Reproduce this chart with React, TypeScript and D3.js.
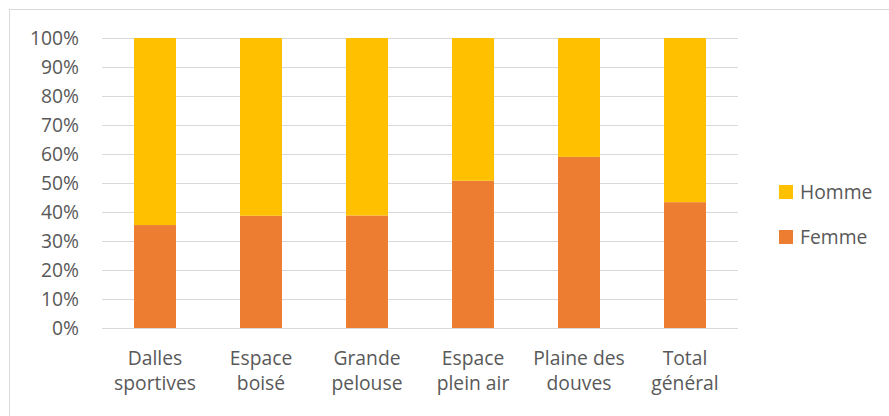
import React from 'react';
import * as d3 from 'd3';

// categories (two-line labels) and share of "Femme" per site
const categories = ['Dalles sportives', 'Espace boisé', 'Grande pelouse', 'Espace plein air', 'Plaine des douves', 'Total général'];
const categoryLines = [
    ['Dalles', 'sportives'],
    ['Espace', 'boisé'],
    ['Grande', 'pelouse'],
    ['Espace', 'plein air'],
    ['Plaine des', 'douves'],
    ['Total', 'général'],
];
const femme = [0.355, 0.387, 0.388, 0.508, 0.59, 0.434];
const homme = femme.map(v => 1 - v);
const yTicks = [0, 0.1, 0.2, 0.3, 0.4, 0.5, 0.6, 0.7, 0.8, 0.9, 1];

const series = [
    { name: 'Femme', values: femme, color: '#ED7D31' },
    { name: 'Homme', values: homme, color: '#FFC000' },
];
const legendOrder = ['Homme', 'Femme'];

const W = 889;
const H = 416;
const font = '"Open Sans", "Liberation Sans", sans-serif';
const textColor = '#595959';
const fs = 19.3;

const App = () => {
    const x = d3.scaleBand<string>()
        .domain(categories)
        .range([102, 738])
        .paddingInner(0.604)
        .paddingOuter(0.302);

    const y = d3.scaleLinear().domain([0, 1]).range([328, 38]);

    const rows = categories.map((c, i) => {
        const r: any = { cat: c };
        series.forEach(s => { r[s.name] = s.values[i]; });
        return r;
    });
    const stacked = d3.stack().keys(series.map(s => s.name))(rows);

    return (
        <svg width={W} height={H} style={{ position: 'absolute', left: 0, top: 0, background: '#fff' }}>
            <rect x={9.5} y={9.5} width={W + 10} height={H + 10} fill="#fff" stroke="#d9d9d9" />
            {yTicks.map(t => (
                <g key={t}>
                    <line x1={102} x2={738} y1={Math.round(y(t)) + 0.5} y2={Math.round(y(t)) + 0.5} stroke="#d9d9d9" strokeWidth={1} />
                    <text x={79} y={y(t)} dy="0.36em" textAnchor="end" fontFamily={font} fontSize={fs} fill={textColor}>
                        {d3.format('.0%')(t)}
                    </text>
                </g>
            ))}
            {stacked.map((layer, li) => (
                <g key={layer.key} fill={series[li].color}>
                    {layer.map((d, i) => (
                        <rect key={i}
                            x={x(categories[i])}
                            width={x.bandwidth()}
                            y={y(d[1])}
                            height={y(d[0]) - y(d[1])} />
                    ))}
                </g>
            ))}
            {categories.map((c, i) => (
                <text key={c} x={(x(c) as number) + x.bandwidth() / 2} textAnchor="middle"
                    fontFamily={font} fontSize={fs} fill={textColor}>
                    {categoryLines[i].map((ln, j) => (
                        <tspan key={j} x={(x(c) as number) + x.bandwidth() / 2} y={365 + j * 25}>{ln}</tspan>
                    ))}
                </text>
            ))}
            {legendOrder.map((name, i) => {
                const s = series.find(ss => ss.name === name)!;
                const cy = 192 + i * 45;
                return (
                    <g key={name}>
                        <rect x={779} y={cy - 7} width={14} height={14} fill={s.color} />
                        <text x={800} y={cy} dy="0.36em" fontFamily={font} fontSize={fs} fill={textColor}>{name}</text>
                    </g>
                );
            })}
        </svg>
    );
};

export default App;
